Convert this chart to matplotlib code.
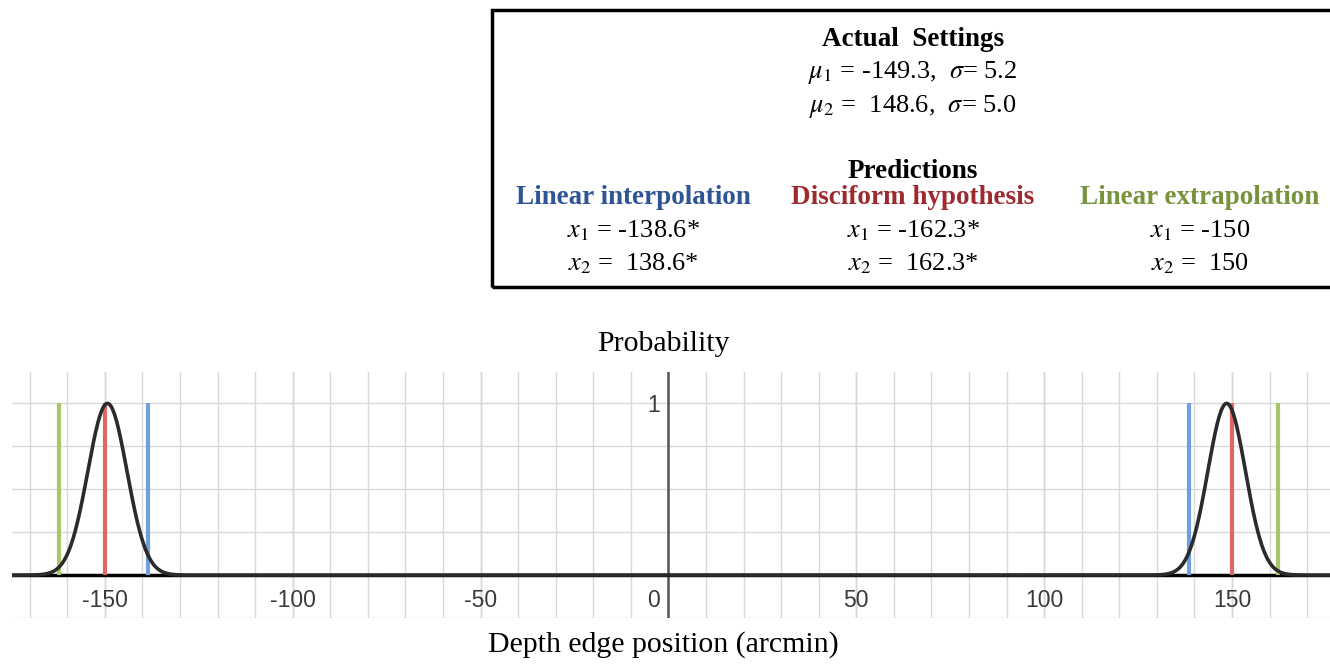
import numpy as np
import matplotlib
matplotlib.use('Agg')
import matplotlib.pyplot as plt
from matplotlib.patches import Rectangle

# settings from the box (peaks drawn as gaussians scaled to height 1)
mu = [-149.3, 148.6]
sigma = [5.2, 5.0]

# vertical marker positions as drawn in the plot
blue_x = [-138.6, 138.6]
red_x = [-150, 150]
green_x = [-162.3, 162.3]

tick_vals = [-150, -100, -50, 50, 100, 150]

plt.rcParams['font.family'] = 'Liberation Serif'
plt.rcParams['mathtext.fontset'] = 'stix'

W, H = 1330, 664
fig = plt.figure(figsize=(W / 100, H / 100), dpi=100)
ax = fig.add_axes([12 / W, 1 - 618 / H, 1 - 12 / W, (618 - 372) / H])

xs = np.linspace(-175, 177, 4000)
ys = np.zeros_like(xs)
for m, s in zip(mu, sigma):
    ys = ys + np.exp(-0.5 * ((xs - m) / s) ** 2)

ax.set_xlim(-174.7, 176.1)
ax.set_ylim(-0.223, 1.183)
ax.set_xticks(np.arange(-170, 171, 10))
ax.set_yticks([-0.25, 0.25, 0.5, 0.75, 1.0])
ax.grid(color='#d9d9d9', lw=1)
ax.tick_params(length=0, labelbottom=False, labelleft=False)
for sp in ax.spines.values():
    sp.set_visible(False)
for v in tick_vals:
    ax.axvline(v, color='#c8c8c8', lw=1, zorder=0.5)

ax.axvline(0, color='#555555', lw=1.8, zorder=2)
ax.axhline(0, color='black', lw=2.5, zorder=2)

ax.vlines(blue_x, 0, 1, color='#6f9fdc', lw=3, zorder=3)
ax.vlines(red_x, 0, 1, color='#e06666', lw=3, zorder=3)
ax.vlines(green_x, 0, 1, color='#a9c66a', lw=3, zorder=3)

ax.plot(xs, ys, color='#2b2b2b', lw=2.6, zorder=4)

for v in tick_vals:
    ax.text(v, -0.15, str(v), ha='center', va='center', fontsize=16.5,
            family='Liberation Sans', color='#3a3a3a')
ax.text(-3.9, -0.15, '0', ha='center', va='center', fontsize=16.5,
        family='Liberation Sans', color='#3a3a3a')
ax.text(-3.9, 0.985, '1', ha='center', va='center', fontsize=16.5,
        family='Liberation Sans', color='#3a3a3a')

fig.text(663 / W, 1 - 344 / H, 'Probability', ha='center', va='center', fontsize=21.5)
fig.text(663 / W, 1 - 645 / H, 'Depth edge position (arcmin)', ha='center',
         va='center', fontsize=21.5)

# settings / predictions box
fig.patches.append(Rectangle((492 / W, 1 - 287 / H), 850 / W, 277 / H,
                             transform=fig.transFigure, fill=False,
                             lw=2.5, ec='black'))

def ftxt(x, y, s, **kw):
    fig.text(x / W, 1 - y / H, s, ha='center', va='center', **kw)

ftxt(913, 40, 'Actual  Settings', fontsize=19.5, weight='bold')
ftxt(913, 73, r'$\mu_1$ = -149.3,  $\sigma$= 5.2', fontsize=19)
ftxt(913, 106, r'$\mu_2$ =  148.6,  $\sigma$= 5.0', fontsize=19)
ftxt(913, 171, 'Predictions', fontsize=19.5, weight='bold')

ftxt(633, 197, 'Linear interpolation', fontsize=19.5, weight='bold', color='#2f5597')
ftxt(913, 197, 'Disciform hypothesis', fontsize=19.5, weight='bold', color='#9e2a2f')
ftxt(1200, 197, 'Linear extrapolation', fontsize=19.5, weight='bold', color='#77933c')

ftxt(633, 231, r'$x_1$ = -138.6*', fontsize=19)
ftxt(633, 264, r'$x_2$ =  138.6*', fontsize=19)
ftxt(913, 231, r'$x_1$ = -162.3*', fontsize=19)
ftxt(913, 264, r'$x_2$ =  162.3*', fontsize=19)
ftxt(1200, 231, r'$x_1$ = -150', fontsize=19)
ftxt(1200, 264, r'$x_2$ =  150', fontsize=19)

fig.savefig('out.png', dpi=100)
